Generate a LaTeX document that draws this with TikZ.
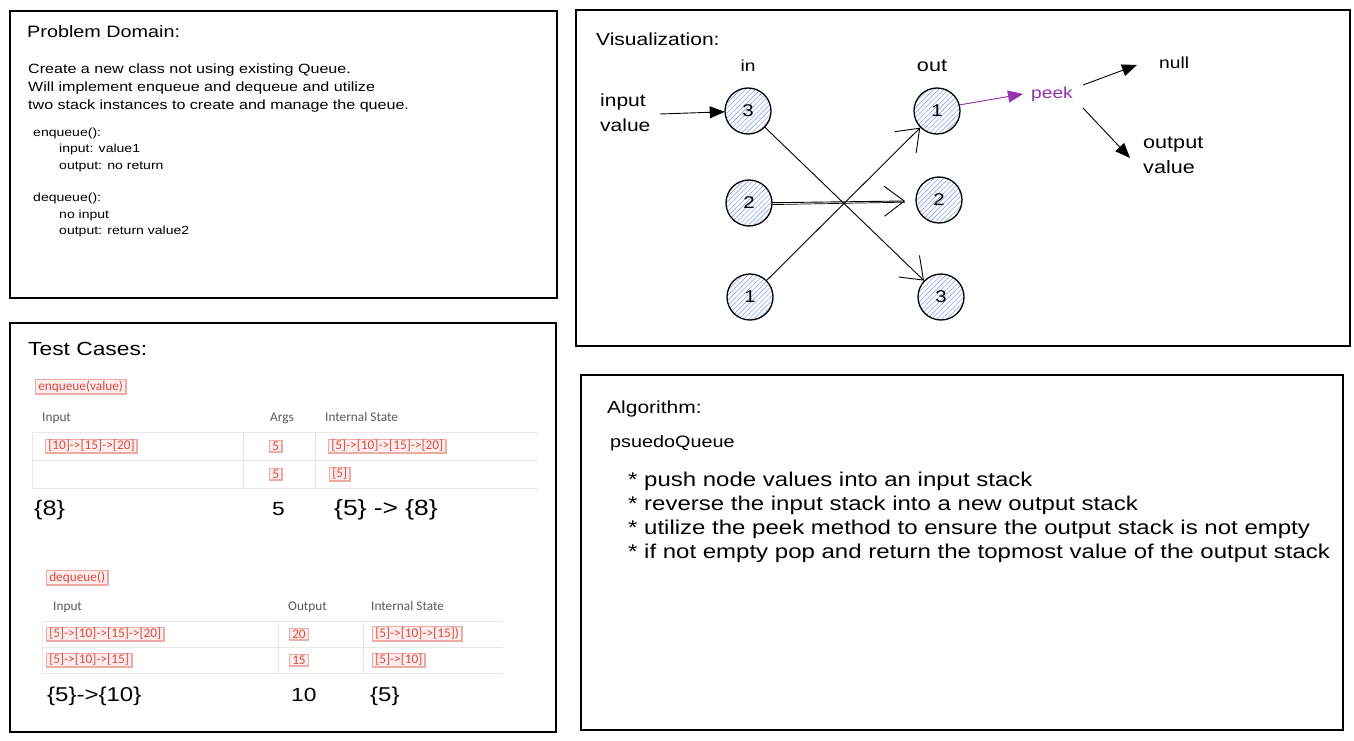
\documentclass[tikz,border=0pt]{standalone}
\usepackage{fontspec}
\setmainfont{Liberation Sans}
\newfontfamily\hand[FakeStretch=1.2]{Liberation Sans}
\newfontfamily\tbl{Carlito}
\usetikzlibrary{arrows.meta,patterns.meta}
\definecolor{badgefill}{RGB}{251,238,236}
\definecolor{badgeline}{RGB}{238,170,165}
\definecolor{badgetext}{RGB}{222,72,62}
\definecolor{hatch}{RGB}{140,165,242}
\definecolor{peekc}{RGB}{150,50,170}
\definecolor{rule}{RGB}{232,232,232}
\definecolor{hdr}{RGB}{90,90,90}
\tikzset{
  panel/.style={draw=black,line width=1.2pt},
  hw/.style={anchor=base west,inner sep=0pt,font=\hand\fontsize{#1}{#1}\selectfont},
  hw/.default=13,
  hwc/.style={inner sep=0pt,font=\hand\fontsize{#1}{#1}\selectfont},
  hwml/.style={align=left,anchor=west,inner sep=0pt,font=\hand\fontsize{#1}{25}\selectfont},
  badge/.style={anchor=west,fill=badgefill,draw=badgeline,line width=0.5pt,
    text=badgetext,inner xsep=3pt,inner ysep=1.5pt,font=\tbl\fontsize{13.3}{14}\selectfont,
    path picture={\draw[badgeline,line width=2.2pt]
      (path picture bounding box.north east) -- (path picture bounding box.south east)
      -- (path picture bounding box.south west);}},
  th/.style={anchor=base west,inner sep=0pt,text=hdr,font=\tbl\fontsize{13.3}{14}\selectfont},
  trule/.style={draw=rule,line width=0.8pt},
  stacknode/.style={circle,draw=black,line width=1.3pt,minimum size=46pt,inner sep=0pt,
    pattern={Lines[angle=45,distance=3.5pt,line width=0.6pt]},pattern color=hatch,
    font=\hand\fontsize{17}{17}\selectfont},
  openarrow/.style={line width=0.9pt,-{Straight Barb[length=20pt,width=30pt,line width=0.9pt]}},
  solidarrow/.style={line width=0.9pt,-{Triangle[length=15pt,width=12pt]}}
}
\begin{document}
\begin{tikzpicture}[x=1pt,y=-1pt]
\useasboundingbox (0,0) rectangle (1354,741);
\fill[white] (0,0) rectangle (1354,741);

% ---------- panels
\draw[panel] (10,11) rectangle (557,298);
\draw[panel] (10,323) rectangle (556,732);
\draw[panel] (576,10) rectangle (1350,346);
\draw[panel] (581,375) rectangle (1343,730);

% ---------- Problem Domain
\node[hw=16.5] (pdtitle) at (27,38) {Problem Domain:};
\node[hw=13.4] (pd1) at (28,74) {Create a new class not using existing Queue.};
\node[hw=13.4] (pd2) at (28,92) {Will implement enqueue and dequeue and utilize};
\node[hw=13.4] (pd3) at (28,110) {two stack instances to create and manage the queue.};
\node[hw=11.7] (pd4) at (33,136) {enqueue():};
\node[hw=11.7] (pd5) at (59,152) {input: value1};
\node[hw=11.7] (pd6) at (59,169) {output: no return};
\node[hw=11.7] (pd7) at (33,201) {dequeue():};
\node[hw=11.7] (pd8) at (59,218) {no input};
\node[hw=11.7] (pd9) at (59,234) {output: return value2};

% ---------- Test Cases
\node[hw=19] (tctitle) at (28,355) {Test Cases:};
\node[badge] (enqb) at (35,387) {enqueue(value)};
\node[th] (eh1) at (42,421) {Input};
\node[th] (eh2) at (270,421) {Args};
\node[th] (eh3) at (325,421) {Internal State};
\draw[trule] (32,432) -- (538,432) (32,460) -- (538,460) (32,488) -- (538,488);
\draw[trule] (32,432) -- (32,488) (243,432) -- (243,488) (315,432) -- (315,488);
\node[badge] (e11) at (45,446) {[10]->[15]->[20]};
\node[badge] (e12) at (269,446) {5};
\node[badge] (e13) at (328,446) {[5]->[10]->[15]->[20]};
\node[badge] (e22) at (269,474) {5};
\node[badge] (e23) at (329,474) {[5]};
\node[hw=21] (e31) at (34,515) {\{8\}};
\node[hw=19] (e32) at (272,515) {5};
\node[hw=22] (e33) at (334,515) {\{5\} -> \{8\}};

\node[badge] (deqb) at (46,578) {dequeue()};
\node[th] (dh1) at (53,610) {Input};
\node[th] (dh2) at (288,610) {Output};
\node[th] (dh3) at (371,610) {Internal State};
\draw[trule] (42,621) -- (503,621) (42,647) -- (503,647) (42,673) -- (503,673);
\draw[trule] (42,621) -- (42,673) (278,621) -- (278,673) (363,621) -- (363,673);
\node[badge] (d11) at (46,634) {[5]->[10]->[15]->[20]};
\node[badge] (d12) at (289,634) {20};
\node[badge] (d13) at (372,634) {[5]->[10]->[15])};
\node[badge] (d21) at (46,660) {[5]->[10]->[15]};
\node[badge] (d22) at (289,660) {15};
\node[badge] (d23) at (372,660) {[5]->[10]};
\node[hw=20] (d31) at (47,701) {\{5\}->\{10\}};
\node[hw=19] (d32) at (291,701) {10};
\node[hw=20] (d33) at (370,701) {\{5\}};

% ---------- Visualization
\node[hw=17.5] (vtitle) at (596,46) {Visualization:};
\node[hwc=16] (inlbl) at (748,66) {in};
\node[hwc=18] (outlbl) at (932,66) {out};
\node[hwml=17.5] (inval) at (600,113) {input\\value};
\node[stacknode] (in3) at (748,111) {3};
\node[stacknode] (in2) at (749,203) {2};
\node[stacknode] (in1) at (750,297) {1};
\node[stacknode] (out1) at (937,111) {1};
\node[stacknode] (out2) at (939,200) {2};
\node[stacknode] (out3) at (941,297) {3};
\coordinate (instart) at (660,114);
\draw[solidarrow] (instart) -- (in3);
\draw[openarrow] (in3) -- (out3);
\coordinate (out2end) at (905,201);
\draw[openarrow] (in2) -- (out2end);
\draw[line width=0.7pt] ([yshift=-1.6pt]in2.east) -- ([yshift=-1.2pt]out2end);
\draw[openarrow] (in1) -- (out1);
\node[hwc=16,text=peekc] (peek) at (1052,94) {peek};
\draw[solidarrow,draw=peekc,fill=peekc] (out1.15) -- ([xshift=-8pt]peek.west);
\node[hw=16] (null) at (1159,69) {null};
\node[hwml=18] (outval) at (1143,155) {output\\value};
\coordinate (p1s) at (1083,85);
\coordinate (p1e) at (1137,65);
\coordinate (p2s) at (1083,108);
\coordinate (p2e) at (1130,158);
\draw[solidarrow] (p1s) -- (p1e);
\draw[solidarrow] (p2s) -- (p2e);

% ---------- Algorithm
\node[hw=17.5] (atitle) at (607,413) {Algorithm:};
\node[hw=16.5] (aname) at (610,447) {psuedoQueue};
\node[hw=20] (a1) at (628,486) {* push node values into an input stack};
\node[hw=20] (a2) at (628,510) {* reverse the input stack into a new output stack};
\node[hw=20] (a3) at (628,534) {* utilize the peek method to ensure the output stack is not empty};
\node[hw=20] (a4) at (628,558) {* if not empty pop and return the topmost value of the output stack};
\end{tikzpicture}
\end{document}
